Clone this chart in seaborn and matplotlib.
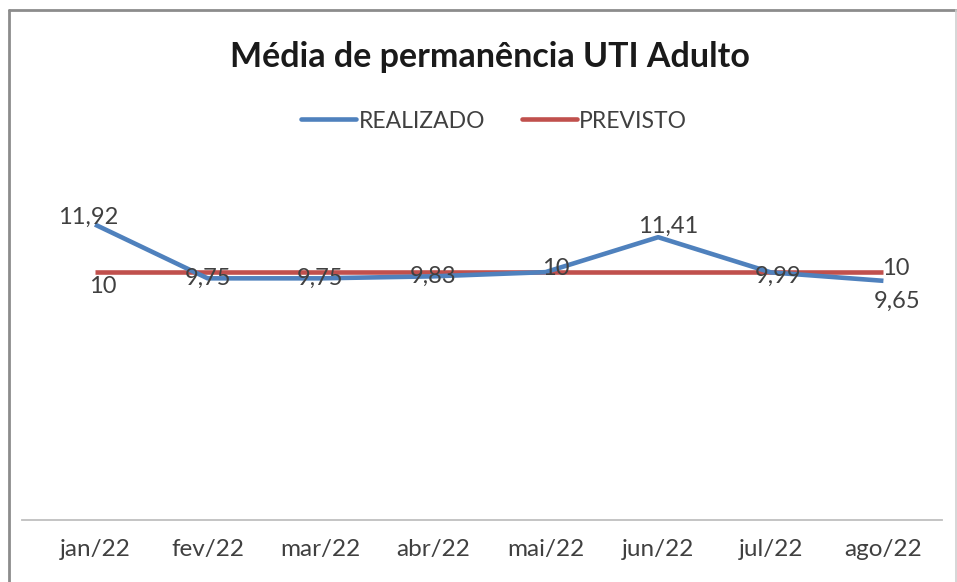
import matplotlib
matplotlib.use("Agg")
import matplotlib.pyplot as plt
import seaborn as sns
import pandas as pd
from matplotlib.lines import Line2D

months = ["jan/22", "fev/22", "mar/22", "abr/22", "mai/22", "jun/22", "jul/22", "ago/22"]
realizado = [11.92, 9.75, 9.75, 9.83, 10.0, 11.41, 9.99, 9.65]
previsto = [10, 10, 10, 10, 10, 10, 10, 10]

sns.set_theme(style="white")
plt.rcParams['font.family'] = ['Lato', 'DejaVu Sans']

W, H = 957, 582
fig = plt.figure(figsize=(W / 100, H / 100), dpi=100)

# axes: x from 22px to 942px, bottom at 520px, top at 173px
left, right, bottom, top = 22, 942, 520, 173
ax = fig.add_axes([left / W, 1 - bottom / H, (right - left) / W, (bottom - top) / H])

df = pd.DataFrame({
    "mes": list(range(len(months))) * 2,
    "valor": realizado + previsto,
    "serie": ["REALIZADO"] * len(months) + ["PREVISTO"] * len(months),
})
blue = "#4F81BD"
red = "#C0504D"
sns.lineplot(data=df, x="mes", y="valor", hue="serie", palette={"REALIZADO": blue, "PREVISTO": red},
             hue_order=["PREVISTO", "REALIZADO"], lw=3.3, ax=ax, legend=False, zorder=3)
for ln in ax.lines:
    ln.set_solid_capstyle("butt")

ax.set_xlim(-0.648, 7.52)
ax.set_ylim(0, 14)
ax.set_xticks(range(len(months)))
ax.set_xticklabels(months, fontsize=17.5, color="#404040")
ax.tick_params(axis="x", length=0, pad=14)
ax.set_yticks([])
ax.set_xlabel("")
ax.set_ylabel("")
for s in ["top", "right", "left"]:
    ax.spines[s].set_visible(False)
ax.spines["bottom"].set_color("#BFBFBF")
ax.spines["bottom"].set_linewidth(1.3)

def fmt(v):
    s = f"{v:.2f}".rstrip("0").rstrip(".")
    return s.replace(".", ",")

lab_kw = dict(textcoords="offset pixels", ha="center", va="center", fontsize=17, color="#404040", zorder=5)
# realizado label offsets (pixels)
r_off = [(-7, 7), (0, 0), (0, 0), (0, 0), (10, 4), (10, 11), (7, -4), (14, -21)]
for i, v in enumerate(realizado):
    ax.annotate(fmt(v), (i, v), xytext=r_off[i], **lab_kw)
# previsto labels only on first and last
p_show = {0: (8, -14), 7: (12, 4)}
for i, off in p_show.items():
    ax.annotate(fmt(previsto[i]), (i, previsto[i]), xytext=off, **lab_kw)

fig.text(490 / W, 1 - 57 / H, "Média de permanência UTI Adulto", ha="center", va="center",
         fontsize=24.5, fontweight="bold", color="#1a1a1a")

handles = [Line2D([], [], color=blue, lw=3.3), Line2D([], [], color=red, lw=3.3)]
fig.legend(handles, ["REALIZADO", "PREVISTO"], loc="center", bbox_to_anchor=(494 / W, 1 - 121 / H),
           ncol=2, frameon=False, fontsize=16.5, handlelength=2.4, handletextpad=0.1, columnspacing=1.6,
           labelcolor="#404040")

# outer border
border_kw = dict(color="#8C8C8C", lw=2.0, transform=fig.transFigure)
fig.add_artist(Line2D([9 / W, 9 / W], [0, 1 - 10 / H], **border_kw))
fig.add_artist(Line2D([9 / W, 955.5 / W], [1 - 10 / H, 1 - 10 / H], **border_kw))
fig.add_artist(Line2D([955.5 / W, 955.5 / W], [0, 1 - 10 / H], color="#D0D0D0", lw=1.2, transform=fig.transFigure))

fig.savefig("out.png", dpi=100, facecolor="white")
